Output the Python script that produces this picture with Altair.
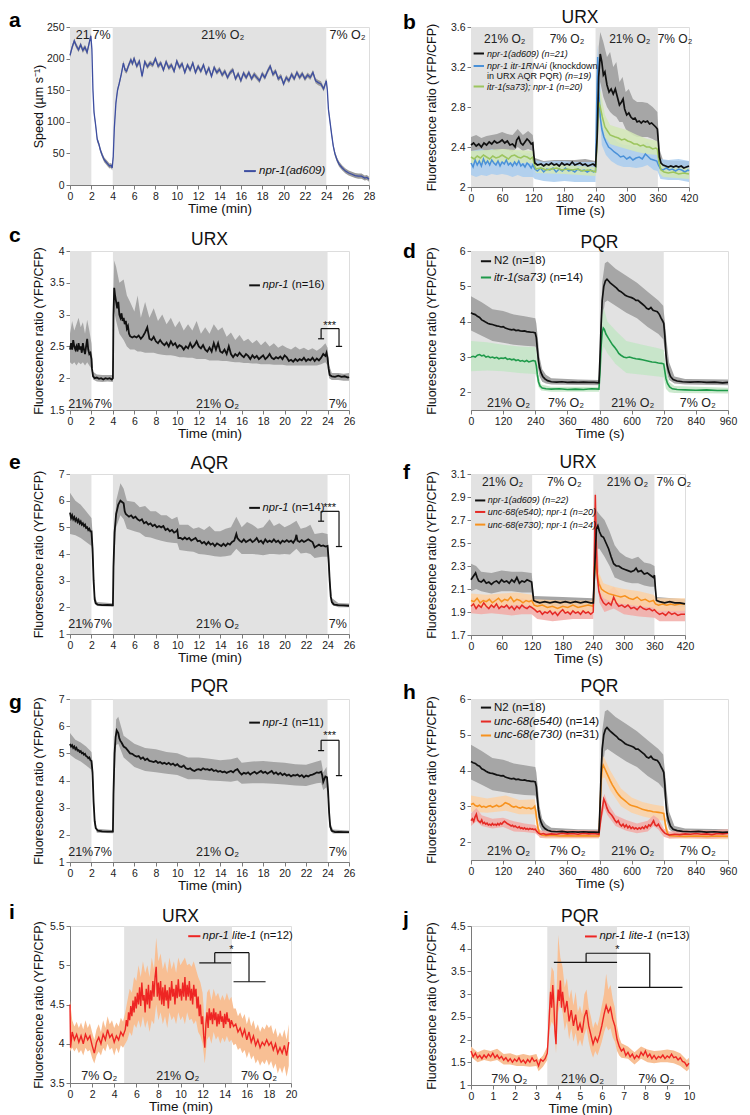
import altair as alt
import pandas as pd

FONT = "Liberation Sans"
SHADE = "#e2e2e2"
AX = "#7a7a7a"
BLACK = "#111111"
GREYBAND = "#a6a6a6"
BLUE_A = "#3d4ea1"
BLUE_B = "#4a91d8"
BLUE_B_BAND = "#a9cdef"
GREEN_B = "#9cc55e"
GREEN_B_BAND = "#d3e7b6"
GREEN_D = "#1f9a4a"
GREEN_D_BAND = "#c3e5c6"
RED = "#e52a25"
RED_BAND = "#f2aaa6"
ORANGE = "#f7921e"
ORANGE_BAND = "#fcd1a4"
RED_I = "#ee2523"
ORANGE_I = "#f8bf94"

# ---------------- panel a : speed ----------------
A_SPEED = [(0,205),(0.2,218),(0.4,228),(0.6,220),(0.8,214),(1.0,222),(1.2,213),(1.4,218),(1.6,210),(1.8,225),(1.95,236),(2.05,215),(2.15,150),(2.25,115),(2.4,95),(2.55,72),(2.7,65),(2.85,55),(3.0,48),(3.2,40),(3.4,36),(3.55,33),(3.7,30),(3.85,31),(3.95,27),(4.05,45),(4.15,90),(4.3,130),(4.45,150),(4.6,160),(4.8,175),(5.0,193),(5.15,182),(5.3,180),(5.5,190),(5.7,198),(5.85,192),(6.0,200),
(6.25,188),(6.5,196),(6.75,172),(7.0,195),(7.25,187),(7.5,193),(7.75,190),(8.0,200),(8.25,188),(8.5,193),(8.75,182),(9.0,195),(9.25,185),(9.5,190),(9.75,180),(10.0,196),(10.25,186),(10.5,192),(10.75,178),(11.0,190),(11.25,182),(11.5,193),(11.75,178),(12.0,188),(12.25,180),(12.5,190),(12.75,176),(13.0,185),(13.25,172),(13.5,186),(13.75,178),(14.0,183),(14.25,174),(14.5,180),(14.75,170),(15.0,178),(15.25,182),(15.5,168),(15.75,176),(16.0,165),(16.25,177),(16.5,170),(16.75,178),(17.0,168),(17.25,175),(17.5,170),(17.75,165),(18.0,176),(18.25,170),(18.5,180),(18.75,188),(19.0,175),(19.25,180),(19.5,168),(19.75,172),(20.0,160),(20.25,170),(20.5,165),(20.75,175),(21.0,168),(21.25,178),(21.5,170),(21.75,176),(22.0,168),(22.25,174),(22.5,170),(22.75,178),(23.0,165),(23.25,162),(23.5,160),(23.75,152),(24.0,165),
(24.1,150),(24.2,120),(24.35,100),(24.5,80),(24.65,62),(24.8,50),(25.0,40),(25.2,33),(25.5,27),(25.8,22),(26.1,19),(26.4,17),(26.7,15),(27.0,14),(27.3,14),(27.6,11),(27.8,12),(28,9)]
A_SEM = 4

# ---------------- panel b : URX ----------------
B_K = [(0,2.42),(5,2.44),(10,2.41),(15,2.43),(20,2.40),(25,2.44),(30,2.42),(35,2.45),(40,2.43),(45,2.46),(50,2.44),(55,2.45),(60,2.47),(65,2.44),(70,2.46),(75,2.42),(80,2.43),(85,2.40),(88,2.47),(92,2.50),(96,2.44),(100,2.42),(104,2.45),(108,2.48),(112,2.46),(116,2.43),(119,2.44),(121,2.32),(123,2.24),(128,2.22),(135,2.23),(140,2.21),(145,2.23),(150,2.22),(155,2.24),(160,2.22),(165,2.23),(170,2.21),(175,2.24),(180,2.22),(185,2.23),(190,2.22),(195,2.25),(200,2.22),(205,2.23),(210,2.24),(215,2.22),(220,2.23),(225,2.21),(230,2.22),(235,2.23),(240,2.21),(243,2.5),(246,3.1),(249,3.33),(252,3.25),(255,3.12),(258,3.15),(262,3.02),(266,2.95),(270,2.98),(274,2.93),(278,2.98),(282,2.90),(286,2.82),(290,2.85),(293,2.88),(296,2.78),(300,2.72),(304,2.74),(308,2.70),(312,2.68),(316,2.69),(320,2.65),(324,2.66),(328,2.64),(332,2.66),(336,2.65),(340,2.66),(344,2.63),(348,2.64),(352,2.62),(356,2.60),(359,2.58),(361,2.45),(363,2.30),(366,2.24),(370,2.22),(375,2.21),(380,2.20),(385,2.21),(390,2.20),(395,2.21),(400,2.20),(405,2.21),(410,2.19),(415,2.20),(420,2.21)]
B_K_BAND = [(0,2.34,2.50),(10,2.35,2.52),(20,2.33,2.49),(30,2.35,2.51),(40,2.36,2.52),(50,2.36,2.53),(60,2.38,2.55),(70,2.37,2.53),(80,2.35,2.52),(90,2.40,2.58),(100,2.36,2.52),(110,2.38,2.56),(119,2.36,2.52),(123,2.19,2.29),(140,2.17,2.26),(160,2.18,2.27),(180,2.17,2.27),(200,2.18,2.27),(220,2.17,2.28),(240,2.16,2.26),(243,2.35,2.7),(246,2.85,3.4),(249,3.05,3.55),(255,2.9,3.45),(262,2.8,3.3),(268,2.75,3.35),(274,2.72,3.2),(280,2.7,3.25),(286,2.65,3.05),(292,2.65,3.1),(298,2.58,2.95),(304,2.55,2.98),(312,2.52,2.88),(320,2.5,2.85),(330,2.5,2.85),(340,2.5,2.84),(350,2.48,2.8),(359,2.45,2.75),(363,2.2,2.38),(370,2.16,2.27),(390,2.15,2.26),(420,2.15,2.26)]
B_G = [(0,2.30),(6,2.28),(12,2.31),(18,2.29),(24,2.32),(30,2.30),(36,2.28),(42,2.31),(48,2.29),(54,2.30),(60,2.32),(66,2.30),(72,2.28),(78,2.31),(84,2.32),(90,2.30),(96,2.29),(102,2.31),(108,2.30),(114,2.28),(119,2.30),(122,2.22),(125,2.18),(135,2.19),(145,2.17),(155,2.18),(165,2.19),(175,2.17),(185,2.18),(195,2.17),(205,2.18),(215,2.16),(225,2.17),(235,2.16),(240,2.15),(243,2.45),(246,2.85),(249,2.80),(253,2.70),(258,2.60),(263,2.56),(268,2.52),(273,2.51),(278,2.50),(284,2.49),(290,2.47),(296,2.48),(302,2.46),(308,2.45),(314,2.43),(320,2.43),(326,2.41),(332,2.42),(338,2.40),(344,2.40),(350,2.38),(356,2.39),(359,2.38),(362,2.25),(366,2.17),(372,2.15),(380,2.14),(390,2.15),(400,2.13),(410,2.14),(420,2.13)]
B_G_BAND = [(0,2.24,2.36),(30,2.24,2.37),(60,2.25,2.38),(90,2.24,2.37),(119,2.24,2.36),(125,2.14,2.22),(180,2.13,2.22),(240,2.11,2.20),(243,2.35,2.55),(246,2.72,3.0),(250,2.68,2.95),(258,2.5,2.72),(268,2.43,2.62),(280,2.41,2.6),(300,2.38,2.57),(320,2.35,2.52),(340,2.33,2.48),(359,2.32,2.46),(363,2.14,2.3),(370,2.1,2.2),(420,2.08,2.19)]
B_B = [(0,2.24),(4,2.20),(8,2.27),(12,2.22),(16,2.26),(20,2.21),(24,2.28),(28,2.23),(32,2.26),(36,2.22),(40,2.27),(44,2.24),(48,2.22),(52,2.26),(56,2.21),(60,2.25),(64,2.23),(68,2.27),(72,2.22),(76,2.24),(80,2.21),(84,2.25),(88,2.22),(92,2.26),(96,2.21),(100,2.23),(104,2.20),(108,2.24),(112,2.22),(116,2.19),(119,2.22),(123,2.18),(128,2.16),(134,2.19),(140,2.15),(146,2.18),(152,2.17),(158,2.19),(164,2.15),(170,2.18),(176,2.16),(182,2.19),(188,2.16),(194,2.17),(200,2.15),(206,2.18),(212,2.16),(218,2.17),(224,2.15),(230,2.17),(236,2.15),(240,2.16),(242,2.8),(244,3.3),(246,3.0),(249,2.7),(252,2.58),(256,2.50),(260,2.45),(265,2.40),(270,2.38),(276,2.35),(282,2.33),(288,2.30),(294,2.31),(300,2.28),(306,2.30),(312,2.27),(318,2.29),(324,2.30),(330,2.28),(336,2.33),(340,2.31),(346,2.28),(352,2.27),(358,2.26),(361,2.22),(365,2.18),(370,2.17),(376,2.19),(382,2.17),(388,2.18),(394,2.16),(400,2.18),(406,2.17),(412,2.15),(418,2.17),(420,2.16)]
B_B_BAND = [(0,2.12,2.36),(10,2.1,2.37),(20,2.12,2.38),(30,2.11,2.36),(40,2.13,2.38),(50,2.12,2.36),(60,2.13,2.37),(70,2.12,2.37),(80,2.1,2.34),(90,2.12,2.36),(100,2.1,2.33),(110,2.1,2.34),(119,2.1,2.33),(123,2.08,2.27),(140,2.06,2.25),(160,2.05,2.26),(180,2.06,2.26),(200,2.05,2.25),(220,2.05,2.25),(240,2.05,2.25),(242,2.6,3.0),(244,3.1,3.42),(247,2.8,3.2),(252,2.42,2.75),(260,2.32,2.6),(270,2.26,2.52),(282,2.22,2.45),(294,2.2,2.42),(306,2.2,2.42),(318,2.19,2.4),(330,2.2,2.42),(340,2.22,2.45),(352,2.17,2.38),(359,2.16,2.36),(365,2.08,2.28),(380,2.07,2.27),(400,2.07,2.28),(420,2.05,2.26)]

# ---------------- panel c : URX npr-1 ----------------
C_LINE = [(0,2.45),(0.1,2.55),(0.2,2.45),(0.3,2.6),(0.4,2.5),(0.5,2.45),(0.6,2.5),(0.7,2.42),(0.8,2.55),(0.9,2.45),(1.0,2.5),(1.1,2.4),(1.2,2.55),(1.3,2.45),(1.4,2.38),(1.5,2.5),(1.6,2.62),(1.7,2.45),(1.8,2.38),(1.9,2.4),(2.0,2.3),(2.05,2.15),(2.15,2.03),(2.3,2.0),(2.5,2.01),(2.7,1.99),(2.9,2.0),(3.1,1.98),(3.3,2.0),(3.5,1.99),(3.7,2.0),(3.9,1.98),(4.0,2.0),(4.05,3.0),(4.12,3.42),(4.2,3.3),(4.3,3.2),(4.4,3.1),(4.5,3.2),(4.6,3.0),(4.7,2.95),(4.8,3.02),(4.9,2.9),(5.0,2.95),(5.1,2.85),(5.2,2.9),(5.3,2.78),(5.4,2.82),(5.5,2.7),(5.6,2.66),(5.8,2.64),(6.0,2.66),(6.2,2.64),(6.4,2.67),(6.6,2.62),(6.8,2.66),(7.0,2.72),(7.2,2.80),(7.4,2.62),(7.6,2.6),(7.8,2.65),(8.0,2.58),(8.2,2.55),(8.4,2.6),(8.6,2.55),(8.8,2.52),(9.0,2.56),(9.2,2.5),(9.4,2.58),(9.6,2.52),(9.8,2.55),(10.0,2.48),(10.2,2.52),(10.4,2.5),(10.6,2.45),(10.8,2.5),(11.0,2.47),(11.2,2.55),(11.4,2.48),(11.6,2.52),(11.8,2.58),(12.0,2.5),(12.2,2.47),(12.4,2.52),(12.6,2.45),(12.8,2.42),(13.0,2.48),(13.2,2.42),(13.4,2.55),(13.6,2.45),(13.8,2.55),(14.0,2.42),(14.2,2.4),(14.4,2.45),(14.6,2.38),(14.8,2.5),(15.0,2.38),(15.2,2.33),(15.4,2.38),(15.6,2.35),(15.8,2.4),(16.0,2.36),(16.2,2.33),(16.4,2.38),(16.6,2.35),(16.8,2.3),(17.0,2.36),(17.2,2.32),(17.4,2.35),(17.6,2.3),(17.8,2.33),(18.0,2.36),(18.2,2.3),(18.4,2.33),(18.6,2.38),(18.8,2.32),(19.0,2.3),(19.2,2.33),(19.4,2.31),(19.6,2.34),(19.8,2.3),(20.0,2.36),(20.2,2.33),(20.4,2.27),(20.6,2.29),(20.8,2.26),(21.0,2.3),(21.2,2.27),(21.4,2.3),(21.6,2.28),(21.8,2.32),(22.0,2.27),(22.2,2.3),(22.4,2.28),(22.6,2.32),(22.8,2.27),(23.0,2.31),(23.2,2.28),(23.4,2.32),(23.6,2.38),(23.8,2.35),(23.9,2.4),(24.0,2.32),(24.1,2.15),(24.2,2.05),(24.4,2.03),(24.7,2.02),(25.0,2.04),(25.3,2.02),(25.6,2.03),(25.9,2.01),(26.0,2.02)]
C_BAND = [(0,2.25,2.7),(0.2,2.22,2.9),(0.4,2.25,2.75),(0.6,2.2,2.85),(0.8,2.25,2.95),(1.0,2.22,2.8),(1.2,2.25,2.88),(1.4,2.2,2.7),(1.6,2.25,2.92),(1.8,2.2,2.75),(2.0,2.15,2.55),(2.15,1.98,2.1),(2.5,1.95,2.06),(3.0,1.94,2.05),(3.5,1.95,2.05),(4.0,1.94,2.05),(4.05,2.6,3.4),(4.12,3.05,3.85),(4.3,2.9,3.75),(4.6,2.7,3.5),(5.0,2.6,3.55),(5.3,2.5,3.3),(5.6,2.45,3.2),(6.0,2.45,3.05),(6.3,2.42,3.3),(6.6,2.42,2.95),(7.0,2.4,3.2),(7.4,2.4,2.95),(7.8,2.4,3.1),(8.2,2.38,2.9),(8.6,2.37,3.0),(9.0,2.36,2.85),(9.4,2.36,2.95),(9.8,2.35,2.8),(10.2,2.33,2.9),(10.6,2.33,2.75),(11.0,2.32,2.85),(11.4,2.32,2.75),(11.8,2.3,2.9),(12.2,2.3,2.7),(12.6,2.3,2.8),(13.0,2.28,2.7),(13.4,2.28,2.85),(13.8,2.28,2.75),(14.2,2.27,2.8),(14.6,2.27,2.65),(15.0,2.26,2.72),(15.4,2.25,2.6),(15.8,2.25,2.68),(16.2,2.24,2.58),(16.6,2.24,2.62),(17.0,2.23,2.55),(17.4,2.23,2.6),(17.8,2.22,2.52),(18.2,2.22,2.58),(18.6,2.22,2.5),(19.0,2.21,2.55),(19.4,2.21,2.48),(19.8,2.21,2.52),(20.2,2.2,2.48),(20.6,2.2,2.45),(21.0,2.2,2.5),(21.4,2.2,2.45),(21.8,2.2,2.48),(22.2,2.2,2.44),(22.6,2.2,2.47),(23.0,2.2,2.43),(23.4,2.22,2.48),(23.8,2.25,2.55),(24.0,2.2,2.48),(24.15,2.0,2.2),(24.4,1.97,2.08),(25.0,1.97,2.08),(25.5,1.96,2.07),(26.0,1.96,2.08)]

# ---------------- panels d, h : PQR N2 ----------------
N2_LINE = [(0,4.25),(8,4.22),(16,4.2),(24,4.15),(32,4.12),(40,4.05),(48,4.02),(56,3.98),(64,3.95),(72,3.93),(80,3.92),(88,3.9),(96,3.88),(104,3.87),(112,3.85),(120,3.86),(128,3.82),(136,3.8),(144,3.78),(152,3.77),(160,3.78),(168,3.75),(176,3.76),(184,3.74),(192,3.73),(200,3.74),(208,3.72),(216,3.71),(224,3.7),(232,3.7),(240,3.68),(244,3.55),(248,3.2),(252,2.9),(256,2.7),(262,2.55),(268,2.45),(276,2.38),(286,2.33),(300,2.3),(320,2.29),(340,2.3),(360,2.28),(380,2.29),(400,2.28),(420,2.29),(440,2.28),(460,2.28),(478,2.27),(482,3.0),(486,3.9),(490,4.6),(496,5.0),(502,5.15),(508,5.2),(514,5.15),(520,5.1),(528,5.05),(536,5.0),(544,4.95),(552,4.88),(560,4.85),(568,4.8),(576,4.75),(584,4.72),(592,4.7),(600,4.68),(608,4.65),(616,4.6),(624,4.6),(632,4.55),(640,4.5),(648,4.45),(656,4.38),(664,4.35),(672,4.4),(680,4.32),(688,4.3),(696,4.28),(704,4.2),(710,4.1),(716,4.02),(720,3.95),(724,3.6),(728,3.1),(732,2.8),(738,2.6),(745,2.45),(755,2.36),(770,2.32),(790,2.3),(820,2.29),(850,2.3),(880,2.28),(910,2.29),(940,2.27),(960,2.28)]
N2_BAND = [(0,3.75,4.72),(40,3.6,4.55),(80,3.45,4.35),(120,3.4,4.3),(160,3.35,4.2),(200,3.32,4.15),(240,3.3,4.1),(244,3.2,3.95),(250,2.7,3.5),(256,2.45,3.0),(266,2.3,2.65),(280,2.25,2.5),(300,2.22,2.4),(400,2.21,2.36),(478,2.2,2.35),(484,2.9,3.8),(490,4.0,5.1),(500,4.55,5.65),(510,4.6,5.7),(540,4.45,5.5),(580,4.25,5.3),(620,4.1,5.1),(660,3.85,4.85),(700,3.65,4.6),(718,3.5,4.45),(724,3.2,4.0),(730,2.6,3.5),(740,2.35,2.85),(760,2.25,2.45),(800,2.22,2.38),(960,2.2,2.36)]
D_G = [(0,3.0),(8,3.02),(16,3.0),(24,3.05),(32,3.07),(40,3.03),(48,3.05),(56,3.0),(64,3.02),(72,2.98),(80,3.0),(88,2.97),(96,2.99),(104,2.95),(112,2.97),(120,2.96),(128,2.98),(136,2.93),(144,2.95),(152,2.92),(160,2.94),(168,2.9),(176,2.92),(184,2.88),(192,2.9),(200,2.87),(208,2.9),(216,2.86),(224,2.88),(232,2.9),(240,2.88),(244,2.75),(248,2.5),(252,2.3),(258,2.18),(266,2.12),(280,2.1),(300,2.09),(330,2.1),(360,2.08),(390,2.09),(420,2.08),(450,2.1),(478,2.09),(482,2.6),(486,3.3),(490,3.7),(494,3.82),(498,3.78),(504,3.65),(512,3.55),(520,3.45),(528,3.35),(536,3.28),(544,3.2),(552,3.1),(560,3.05),(570,3.0),(580,2.98),(592,3.0),(604,2.97),(616,2.95),(628,2.94),(640,2.92),(652,2.9),(664,2.88),(676,2.86),(688,2.85),(700,2.83),(712,2.82),(720,2.8),(724,2.6),(728,2.4),(734,2.25),(742,2.15),(752,2.1),(770,2.08),(800,2.07),(840,2.06),(880,2.07),(920,2.05),(960,2.05)]
D_G_BAND = [(0,2.6,3.45),(60,2.62,3.42),(120,2.6,3.35),(180,2.55,3.3),(240,2.52,3.28),(246,2.4,3.1),(252,2.15,2.5),(262,2.05,2.22),(300,2.02,2.16),(478,2.02,2.16),(484,2.5,3.4),(490,3.1,4.2),(496,3.3,4.38),(510,3.1,4.0),(540,2.8,3.75),(580,2.55,3.45),(640,2.5,3.35),(700,2.45,3.25),(720,2.42,3.2),(728,2.1,2.7),(740,2.0,2.3),(760,1.98,2.18),(960,1.97,2.13)]

# ---------------- panel e : AQR ----------------
E_LINE = [(0,5.55),(0.1,5.35),(0.2,5.45),(0.3,5.3),(0.4,5.38),(0.5,5.25),(0.6,5.32),(0.7,5.2),(0.8,5.28),(0.9,5.15),(1.0,5.22),(1.1,5.1),(1.2,5.15),(1.3,5.05),(1.4,5.1),(1.5,4.98),(1.6,5.0),(1.7,4.9),(1.8,4.95),(1.9,4.85),(2.0,4.85),(2.1,4.2),(2.2,3.0),(2.3,2.3),(2.4,2.15),(2.6,2.1),(3.0,2.08),(3.5,2.09),(4.0,2.08),(4.05,3.5),(4.15,4.8),(4.3,5.5),(4.5,5.85),(4.7,6.0),(4.85,5.95),(5.0,5.9),(5.1,5.6),(5.2,5.5),(5.35,5.45),(5.5,5.4),(5.7,5.45),(5.9,5.35),(6.1,5.4),(6.3,5.3),(6.5,5.25),(6.7,5.3),(6.9,5.15),(7.1,5.2),(7.3,5.1),(7.5,5.15),(7.7,5.05),(7.9,5.1),(8.1,5.0),(8.3,5.05),(8.5,5.0),(8.7,5.05),(8.9,4.9),(9.1,4.95),(9.3,4.85),(9.5,4.9),(9.7,4.8),(9.9,4.85),(10.0,4.9),(10.1,4.6),(10.3,4.6),(10.5,4.55),(10.7,4.62),(10.9,4.55),(11.1,4.6),(11.3,4.5),(11.5,4.55),(11.7,4.6),(11.9,4.48),(12.1,4.5),(12.3,4.4),(12.5,4.45),(12.7,4.35),(12.9,4.45),(13.1,4.35),(13.3,4.4),(13.5,4.3),(13.7,4.4),(13.9,4.35),(14.1,4.3),(14.3,4.38),(14.5,4.3),(14.7,4.4),(14.9,4.35),(15.1,4.45),(15.3,4.5),(15.5,4.75),(15.6,4.6),(15.8,4.5),(16.0,4.45),(16.2,4.55),(16.4,4.45),(16.6,4.5),(16.8,4.55),(17.0,4.45),(17.2,4.5),(17.4,4.6),(17.6,4.45),(17.8,4.5),(18.0,4.4),(18.2,4.55),(18.4,4.45),(18.6,4.5),(18.8,4.45),(19.0,4.55),(19.2,4.45),(19.4,4.5),(19.6,4.4),(19.8,4.5),(20.0,4.45),(20.2,4.52),(20.4,4.45),(20.6,4.5),(20.8,4.42),(21.0,4.55),(21.1,4.72),(21.2,4.5),(21.4,4.45),(21.6,4.52),(21.8,4.45),(22.0,4.5),(22.2,4.55),(22.4,4.5),(22.6,4.45),(22.8,4.25),(23.0,4.3),(23.2,4.35),(23.4,4.3),(23.6,4.32),(23.8,4.28),(24.0,4.3),(24.1,3.8),(24.2,3.0),(24.3,2.4),(24.4,2.2),(24.6,2.1),(25.0,2.08),(25.5,2.07),(26.0,2.06)]
E_BAND = [(0,4.75,6.3),(0.5,4.7,6.0),(1.0,4.6,5.85),(1.5,4.45,5.6),(2.0,4.3,5.35),(2.1,3.7,4.8),(2.3,2.15,2.45),(2.5,2.05,2.2),(4.0,2.02,2.15),(4.05,3.2,3.85),(4.3,5.0,6.0),(4.7,5.45,6.65),(5.0,5.3,6.45),(5.3,4.95,6.0),(6.0,4.85,5.95),(6.5,4.8,5.75),(7.0,4.65,5.8),(7.5,4.62,5.6),(8.0,4.55,5.6),(8.5,4.5,5.45),(9.0,4.45,5.45),(9.5,4.42,5.3),(10.0,4.4,5.4),(10.2,4.15,5.1),(11.0,4.1,5.1),(11.5,4.08,4.95),(12.0,4.0,5.0),(12.5,3.98,4.9),(13.0,3.95,5.05),(13.5,3.92,4.85),(14.0,3.9,4.85),(14.5,3.92,4.95),(15.0,3.95,5.0),(15.5,4.2,5.4),(16.0,4.0,5.0),(16.5,4.0,5.2),(17.0,4.0,5.1),(17.5,3.98,4.95),(18.0,3.95,5.0),(18.6,4.0,5.3),(19.0,4.0,5.05),(19.5,3.98,5.15),(20.0,4.0,5.0),(20.5,3.98,5.1),(21.1,4.2,5.25),(21.5,4.02,4.95),(22.0,4.05,5.0),(22.4,4.0,5.1),(22.8,3.85,4.75),(23.5,3.9,4.8),(24.0,3.9,4.75),(24.2,2.7,3.3),(24.4,2.1,2.35),(25.0,2.0,2.16),(26.0,2.0,2.14)]

# ---------------- panel f : URX unc-68 ----------------
F_K = [(0,2.18),(3,2.2),(6,2.22),(9,2.24),(12,2.2),(15,2.17),(20,2.16),(25,2.18),(30,2.15),(35,2.16),(40,2.14),(45,2.16),(50,2.17),(55,2.15),(60,2.18),(65,2.16),(70,2.17),(75,2.15),(80,2.18),(85,2.16),(90,2.2),(95,2.15),(100,2.17),(105,2.16),(110,2.18),(115,2.17),(119,2.16),(121,2.08),(123,2.0),(128,1.99),(135,1.98),(145,1.99),(155,1.98),(165,1.99),(175,1.98),(185,1.99),(195,1.98),(205,1.99),(215,1.98),(225,1.99),(235,1.98),(240,1.98),(243,2.3),(246,2.62),(249,2.65),(252,2.6),(256,2.56),(260,2.55),(265,2.5),(270,2.45),(275,2.38),(280,2.32),(285,2.3),(290,2.3),(296,2.28),(302,2.27),(308,2.26),(314,2.25),(320,2.26),(324,2.28),(328,2.25),(334,2.26),(340,2.23),(346,2.24),(352,2.22),(358,2.2),(360,2.22),(362,2.1),(364,2.0),(370,1.99),(380,1.98),(390,1.99),(400,1.98),(410,1.98),(420,1.97)]
F_K_BAND = [(0,2.08,2.32),(10,2.1,2.3),(20,2.08,2.25),(40,2.06,2.24),(60,2.08,2.26),(80,2.08,2.25),(100,2.07,2.25),(119,2.07,2.24),(123,1.96,2.04),(180,1.95,2.03),(240,1.95,2.02),(243,2.15,2.45),(247,2.45,2.78),(252,2.45,2.75),(262,2.38,2.7),(272,2.3,2.6),(282,2.2,2.48),(292,2.18,2.42),(304,2.16,2.38),(316,2.15,2.36),(328,2.15,2.38),(340,2.13,2.33),(352,2.12,2.32),(360,2.12,2.3),(364,1.96,2.03),(420,1.94,2.01)]
F_R = [(0,1.95),(5,1.97),(10,1.93),(15,1.96),(20,1.94),(25,1.98),(30,1.95),(35,1.93),(40,1.96),(45,1.94),(50,1.97),(55,1.93),(60,1.95),(65,1.94),(70,1.96),(75,1.93),(80,1.95),(85,1.92),(90,1.95),(95,1.93),(100,1.96),(105,1.94),(110,1.93),(115,1.95),(119,1.94),(125,1.92),(130,1.9),(135,1.91),(140,1.88),(145,1.9),(150,1.89),(155,1.91),(160,1.88),(165,1.9),(170,1.87),(175,1.9),(180,1.92),(185,1.89),(190,1.9),(195,1.88),(200,1.91),(205,1.89),(210,1.9),(215,1.88),(220,1.91),(225,1.89),(230,1.9),(235,1.88),(240,1.9),(242,2.4),(244,2.92),(246,2.5),(248,2.2),(251,2.08),(255,2.02),(260,1.98),(265,1.96),(270,1.98),(275,1.96),(280,2.03),(285,1.98),(290,1.95),(296,1.96),(302,1.94),(308,1.96),(314,1.93),(320,1.94),(326,1.92),(332,1.95),(338,1.93),(344,1.92),(350,1.93),(356,1.91),(360,1.92),(364,1.9),(370,1.88),(376,1.89),(382,1.87),(388,1.9),(394,1.88),(400,1.89),(406,1.87),(412,1.88),(420,1.88)]
F_R_BAND = [(0,1.89,2.02),(20,1.88,2.01),(40,1.89,2.02),(60,1.88,2.01),(80,1.87,2.0),(100,1.88,2.02),(119,1.88,2.0),(130,1.84,1.96),(160,1.82,1.95),(200,1.84,1.96),(240,1.84,1.96),(242,2.2,2.6),(244,2.8,2.97),(247,2.25,2.6),(252,1.98,2.18),(262,1.9,2.05),(280,1.93,2.12),(300,1.88,2.02),(330,1.86,2.0),(360,1.85,1.98),(370,1.82,1.95),(400,1.82,1.95),(420,1.82,1.94)]
F_O = [(0,2.0),(6,1.99),(12,2.02),(18,1.98),(24,2.0),(30,1.99),(36,2.01),(42,1.98),(48,2.0),(54,2.02),(60,1.99),(66,2.01),(72,2.0),(78,2.03),(84,1.99),(90,2.01),(96,2.0),(102,1.98),(108,2.0),(114,1.99),(119,2.0),(124,1.96),(130,1.95),(140,1.96),(150,1.94),(160,1.95),(170,1.93),(180,1.95),(190,1.94),(200,1.96),(210,1.94),(220,1.95),(230,1.96),(240,1.95),(242,2.2),(244,2.35),(247,2.25),(251,2.15),(256,2.1),(262,2.08),(270,2.06),(278,2.05),(286,2.04),(294,2.03),(302,2.04),(310,2.02),(318,2.01),(326,2.03),(334,2.0),(342,2.01),(350,1.99),(358,2.0),(362,1.97),(368,1.96),(376,1.97),(384,1.96),(392,1.97),(400,1.96),(410,1.97),(420,1.97)]
F_O_BAND = [(0,1.95,2.06),(30,1.94,2.05),(60,1.95,2.06),(90,1.96,2.07),(119,1.95,2.05),(125,1.91,2.01),(180,1.9,2.0),(240,1.9,2.0),(242,2.1,2.3),(244,2.25,2.45),(250,2.1,2.25),(260,2.02,2.15),(280,1.98,2.12),(300,1.97,2.1),(330,1.95,2.08),(358,1.94,2.05),(364,1.91,2.02),(420,1.91,2.02)]

# ---------------- panel g : PQR npr-1 ----------------
G_LINE = [(0,5.35),(0.1,5.25),(0.2,5.3),(0.3,5.2),(0.4,5.25),(0.5,5.15),(0.6,5.2),(0.7,5.1),(0.8,5.12),(0.9,5.05),(1.0,5.08),(1.1,5.0),(1.2,5.02),(1.3,4.95),(1.4,4.98),(1.5,4.9),(1.6,4.88),(1.7,4.82),(1.8,4.85),(1.9,4.75),(2.0,4.72),(2.1,4.3),(2.2,3.2),(2.3,2.5),(2.4,2.25),(2.6,2.15),(3.0,2.13),(3.5,2.12),(4.0,2.12),(4.05,3.5),(4.15,5.0),(4.25,5.6),(4.35,5.85),(4.5,5.75),(4.6,5.55),(4.7,5.45),(4.8,5.4),(5.0,5.25),(5.2,5.2),(5.4,5.1),(5.6,5.0),(5.8,4.98),(6.0,4.92),(6.2,4.88),(6.4,4.9),(6.6,4.8),(6.8,4.85),(7.0,4.75),(7.2,4.8),(7.4,4.72),(7.6,4.7),(7.8,4.68),(8.0,4.72),(8.2,4.65),(8.4,4.68),(8.6,4.62),(8.8,4.65),(9.0,4.6),(9.2,4.65),(9.4,4.58),(9.6,4.62),(9.8,4.55),(10.0,4.6),(10.2,4.52),(10.4,4.5),(10.6,4.55),(10.8,4.45),(11.0,4.42),(11.2,4.45),(11.4,4.38),(11.6,4.35),(11.8,4.4),(12.0,4.42),(12.2,4.38),(12.4,4.45),(12.6,4.4),(12.8,4.42),(13.0,4.38),(13.2,4.42),(13.4,4.35),(13.6,4.38),(13.8,4.32),(14.0,4.35),(14.2,4.3),(14.4,4.33),(14.6,4.28),(14.8,4.32),(15.0,4.35),(15.2,4.3),(15.4,4.38),(15.6,4.42),(15.8,4.3),(16.0,4.22),(16.2,4.28),(16.4,4.25),(16.6,4.3),(16.8,4.22),(17.0,4.28),(17.2,4.32),(17.4,4.25),(17.6,4.3),(17.8,4.35),(18.0,4.28),(18.2,4.32),(18.4,4.25),(18.6,4.3),(18.8,4.35),(19.0,4.25),(19.2,4.3),(19.4,4.22),(19.6,4.28),(19.8,4.2),(20.0,4.25),(20.2,4.18),(20.4,4.22),(20.6,4.15),(20.8,4.2),(21.0,4.18),(21.2,4.22),(21.4,4.15),(21.6,4.2),(21.8,4.12),(22.0,4.18),(22.2,4.15),(22.4,4.2),(22.6,4.22),(22.8,4.25),(23.0,4.3),(23.2,4.28),(23.4,4.32),(23.5,4.2),(23.6,3.95),(23.7,4.05),(23.8,4.15),(23.95,4.12),(24.05,3.6),(24.15,2.8),(24.25,2.3),(24.4,2.15),(24.7,2.1),(25.0,2.11),(25.5,2.1),(26.0,2.1)]
G_BAND = [(0,4.95,5.75),(0.5,4.8,5.5),(1.0,4.7,5.4),(1.5,4.55,5.25),(2.0,4.4,5.05),(2.1,4.0,4.6),(2.3,2.35,2.65),(2.5,2.08,2.22),(4.0,2.06,2.18),(4.05,3.2,3.8),(4.3,5.3,6.25),(4.5,5.35,6.35),(5.0,4.85,5.65),(6.0,4.5,5.35),(7.0,4.35,5.2),(8.0,4.3,5.15),(9.0,4.25,5.05),(10.0,4.2,5.0),(11.0,4.05,4.85),(12.0,4.05,4.85),(13.0,4.0,4.8),(14.0,3.98,4.75),(15.0,3.95,4.78),(15.6,4.0,4.85),(16.0,3.88,4.65),(17.0,3.9,4.7),(18.0,3.9,4.72),(19.0,3.88,4.68),(20.0,3.85,4.65),(21.0,3.82,4.6),(22.0,3.8,4.58),(23.0,3.9,4.7),(23.4,3.92,4.75),(23.6,3.65,4.3),(23.9,3.75,4.5),(24.05,3.3,3.9),(24.25,2.15,2.45),(24.5,2.05,2.2),(26.0,2.05,2.16)]

# ---------------- panel h : PQR unc-68 ----------------
H_O = [(0,3.05),(8,3.08),(16,3.02),(24,3.0),(32,3.03),(40,2.98),(48,3.0),(56,2.97),(64,3.0),(72,3.02),(80,2.98),(88,3.0),(96,3.03),(104,2.99),(112,3.01),(120,3.05),(128,3.1),(136,3.08),(144,3.05),(152,3.0),(160,2.98),(168,3.0),(176,2.97),(184,2.95),(192,2.98),(200,2.96),(208,2.94),(216,2.96),(224,2.93),(232,2.95),(238,3.0),(242,2.85),(246,2.6),(250,2.4),(256,2.25),(264,2.2),(280,2.18),(300,2.19),(330,2.17),(360,2.18),(390,2.17),(420,2.18),(450,2.17),(478,2.17),(482,2.9),(486,3.7),(490,4.05),(494,4.15),(500,4.05),(506,3.95),(512,3.85),(520,3.72),(528,3.6),(536,3.5),(544,3.4),(552,3.32),(560,3.25),(568,3.2),(576,3.15),(584,3.1),(592,3.05),(600,3.02),(610,3.0),(620,2.98),(630,2.95),(640,2.92),(650,2.9),(660,2.88),(670,2.87),(680,2.85),(690,2.84),(700,2.83),(710,2.82),(720,2.8),(724,2.6),(728,2.4),(734,2.25),(742,2.18),(760,2.17),(800,2.16),(840,2.17),(880,2.16),(920,2.17),(960,2.16)]
H_O_BAND = [(0,2.85,3.3),(60,2.82,3.22),(130,2.88,3.3),(180,2.78,3.18),(238,2.78,3.2),(246,2.45,2.8),(256,2.12,2.35),(280,2.1,2.26),(478,2.1,2.26),(484,3.0,3.8),(492,3.8,4.42),(500,3.8,4.32),(520,3.45,4.0),(560,3.0,3.5),(600,2.82,3.25),(640,2.72,3.12),(680,2.65,3.05),(720,2.6,3.0),(728,2.25,2.55),(740,2.1,2.25),(960,2.08,2.24)]
H_R = [(0,2.6),(5,2.65),(10,2.58),(15,2.7),(20,2.78),(25,2.62),(30,2.58),(35,2.55),(40,2.62),(45,2.52),(50,2.55),(55,2.5),(60,2.53),(65,2.48),(70,2.5),(75,2.47),(80,2.52),(85,2.48),(90,2.5),(95,2.47),(100,2.52),(105,2.48),(110,2.53),(115,2.5),(120,2.55),(125,2.58),(130,2.55),(135,2.52),(140,2.5),(145,2.48),(150,2.45),(155,2.47),(160,2.43),(165,2.45),(170,2.42),(175,2.4),(180,2.43),(185,2.38),(190,2.4),(195,2.37),(200,2.4),(205,2.36),(210,2.38),(215,2.35),(220,2.38),(225,2.36),(230,2.37),(235,2.35),(240,2.36),(246,2.3),(252,2.25),(260,2.22),(270,2.24),(280,2.21),(300,2.23),(320,2.22),(340,2.25),(360,2.23),(380,2.24),(400,2.22),(420,2.25),(440,2.23),(460,2.24),(478,2.22),(484,2.6),(490,2.9),(496,3.2),(502,3.1),(508,2.95),(514,2.85),(520,2.8),(526,2.75),(532,2.68),(538,2.6),(544,2.55),(550,2.6),(556,2.5),(562,2.45),(568,2.5),(574,2.42),(580,2.48),(586,2.4),(592,2.45),(598,2.38),(604,2.42),(610,2.37),(616,2.4),(622,2.36),(628,2.4),(634,2.37),(640,2.42),(646,2.38),(652,2.45),(658,2.4),(664,2.48),(670,2.45),(676,2.52),(682,2.6),(688,2.48),(694,2.45),(700,2.5),(706,2.42),(712,2.35),(718,2.3),(724,2.25),(732,2.22),(740,2.2),(760,2.22),(780,2.21),(800,2.23),(820,2.22),(840,2.24),(860,2.22),(880,2.23),(900,2.21),(920,2.24),(940,2.23),(960,2.25)]
H_R_BAND = [(0,2.45,2.8),(20,2.58,2.95),(40,2.45,2.75),(80,2.38,2.65),(120,2.42,2.68),(160,2.3,2.58),(200,2.28,2.52),(240,2.25,2.48),(260,2.12,2.32),(300,2.13,2.33),(400,2.12,2.34),(478,2.12,2.33),(490,2.7,3.1),(498,2.95,3.35),(510,2.75,3.1),(540,2.45,2.75),(580,2.32,2.62),(620,2.25,2.52),(660,2.3,2.6),(682,2.45,2.75),(700,2.35,2.65),(720,2.15,2.38),(740,2.1,2.3),(800,2.12,2.33),(900,2.1,2.33),(960,2.13,2.36)]

# ---------------- panel i : URX lite-1 ----------------
I_LINE = [(0,4.5),(0.05,3.95),(0.2,4.15),(0.4,4.05),(0.6,4.12),(0.8,4.02),(1.0,4.1),(1.2,4.0),(1.4,4.12),(1.6,4.05),(1.8,4.1),(2.0,3.98),(2.2,3.88),(2.4,4.02),(2.6,4.08),(2.8,4.0),(3.0,4.12),(3.2,4.05),(3.4,4.18),(3.6,4.08),(3.8,4.12),(4.0,4.02),(4.2,4.1),(4.4,4.05),(4.6,4.15),(4.8,4.1),
(5.0,4.18),(5.1,4.3),(5.2,4.22),(5.3,4.4),(5.4,4.3),(5.5,4.48),(5.6,4.35),(5.7,4.55),(5.8,4.4),(5.9,4.6),(6.0,4.45),(6.1,4.65),(6.2,4.5),(6.3,4.72),(6.4,4.48),(6.5,4.78),(6.6,4.55),(6.7,4.62),(6.8,4.4),(6.9,4.7),(7.0,4.5),(7.1,4.75),(7.2,4.45),(7.3,4.68),(7.4,4.55),(7.5,4.8),(7.6,4.6),(7.7,4.85),(7.8,4.98),(7.9,4.6),(8.0,4.78),(8.1,4.55),(8.2,4.8),(8.3,4.5),(8.4,4.72),(8.5,4.48),(8.6,4.75),(8.7,4.55),(8.8,4.68),(8.9,4.45),(9.0,4.72),(9.1,4.55),(9.2,4.8),(9.3,4.6),(9.4,4.7),(9.5,4.5),(9.6,4.75),(9.7,4.58),(9.8,4.82),(9.9,4.6),(10.0,4.7),(10.1,4.55),(10.2,4.78),(10.3,4.6),(10.4,4.85),(10.5,4.55),(10.6,4.75),(10.7,4.6),(10.8,4.8),(10.9,4.55),(11.0,4.7),(11.1,4.5),(11.2,4.75),(11.3,4.6),(11.4,4.7),(11.5,4.45),(11.6,4.6),(11.7,4.35),(11.8,4.5),(11.9,4.25),(12.0,4.35),(12.1,4.1),(12.2,3.95),(12.3,4.25),(12.4,4.4),(12.5,4.2),(12.6,4.45),(12.7,4.3),(12.8,4.4),(12.9,4.25),(13.0,4.45),(13.1,4.3),(13.2,4.4),(13.3,4.22),(13.4,4.38),(13.5,4.25),(13.6,4.42),(13.7,4.28),(13.8,4.35),(13.9,4.2),(14.0,4.38),(14.1,4.25),(14.2,4.4),(14.3,4.28),(14.4,4.32),(14.5,4.2),(14.6,4.3),
(14.8,4.22),(15.0,4.25),(15.2,4.15),(15.4,4.2),(15.6,4.1),(15.8,4.18),(16.0,4.05),(16.2,4.15),(16.4,4.02),(16.6,4.1),(16.8,3.98),(17.0,4.05),(17.2,3.95),(17.4,4.02),(17.6,3.98),(17.8,4.05),(18.0,3.98),(18.2,4.02),(18.4,3.92),(18.6,4.0),(18.8,3.88),(19.0,3.95),(19.2,3.88),(19.4,3.98),(19.6,3.85),(19.8,4.02)]
I_BAND = [(0,3.9,4.55),(0.2,3.95,4.3),(0.4,3.9,4.22),(0.6,3.95,4.28),(0.8,3.88,4.2),(1.0,3.92,4.27),(1.2,3.85,4.18),(1.4,3.95,4.3),(1.6,3.9,4.2),(1.8,3.92,4.26),(2.0,3.82,4.15),(2.2,3.75,4.05),(2.4,3.85,4.18),(2.6,3.9,4.25),(2.8,3.85,4.15),(3.0,3.95,4.3),(3.2,3.9,4.2),(3.4,4.0,4.35),(3.6,3.92,4.25),(3.8,3.95,4.3),(4.0,3.85,4.2),(4.2,3.95,4.27),(4.4,3.88,4.22),(4.6,3.98,4.33),(4.8,3.95,4.28),(5.0,4.0,4.4),(5.2,4.05,4.55),(5.4,4.15,4.7),(5.6,4.1,4.65),(5.8,4.25,4.85),(6.0,4.2,4.8),(6.2,4.3,5.0),(6.4,4.2,4.85),(6.6,4.35,5.05),(6.8,4.2,4.9),(7.0,4.3,5.0),(7.2,4.15,4.85),(7.4,4.3,5.1),(7.6,4.25,4.95),(7.8,4.5,5.35),(8.0,4.3,5.05),(8.2,4.4,5.15),(8.4,4.25,4.95),(8.6,4.35,5.05),(8.8,4.2,4.9),(9.0,4.4,5.1),(9.2,4.3,4.95),(9.4,4.35,5.05),(9.6,4.25,4.9),(9.8,4.4,5.1),(10.0,4.3,5.0),(10.2,4.35,5.05),(10.4,4.25,5.1),(10.6,4.4,5.0),(10.8,4.3,5.02),(11.0,4.32,4.98),(11.2,4.25,5.05),(11.4,4.3,4.95),(11.6,4.15,4.85),(11.8,4.1,4.78),(12.0,4.0,4.65),(12.2,3.75,4.25),(12.4,4.05,4.65),(12.6,4.1,4.7),(12.8,4.0,4.55),(13.0,4.15,4.7),(13.2,4.05,4.6),(13.4,4.1,4.65),(13.6,4.0,4.55),(13.8,4.08,4.62),(14.0,4.02,4.55),(14.2,4.1,4.65),(14.4,4.02,4.55),(14.6,4.05,4.6),(14.8,3.98,4.45),(15.0,4.0,4.45),(15.2,3.92,4.35),(15.4,3.95,4.4),(15.6,3.88,4.32),(15.8,3.92,4.38),(16.0,3.82,4.25),(16.2,3.9,4.35),(16.4,3.8,4.22),(16.6,3.85,4.3),(16.8,3.75,4.18),(17.0,3.8,4.25),(17.2,3.72,4.15),(17.4,3.78,4.22),(17.6,3.74,4.18),(17.8,3.8,4.25),(18.0,3.72,4.2),(18.2,3.78,4.24),(18.4,3.68,4.12),(18.6,3.75,4.2),(18.8,3.62,4.08),(19.0,3.7,4.15),(19.2,3.62,4.08),(19.4,3.72,4.18),(19.6,3.58,4.05),(19.8,3.72,4.25)]

# ---------------- panel j : PQR lite-1 ----------------
J_LINE = [(0,1.75),(0.1,1.62),(0.2,1.7),(0.3,1.6),(0.4,1.65),(0.5,1.58),(0.6,1.66),(0.7,1.6),(0.8,1.68),(0.9,1.62),(1.0,1.7),(1.1,1.6),(1.2,1.66),(1.3,1.58),(1.4,1.63),(1.5,1.55),(1.6,1.6),(1.7,1.52),(1.8,1.58),(1.9,1.5),(2.0,1.57),(2.1,1.52),(2.2,1.6),(2.3,1.5),(2.4,1.55),(2.5,1.48),(2.6,1.56),(2.7,1.5),(2.8,1.6),(2.9,1.52),(3.0,1.55),(3.1,1.42),(3.2,1.56),(3.3,1.52),(3.4,1.58),(3.5,1.7),(3.55,2.1),(3.6,2.6),(3.65,3.05),(3.7,2.7),(3.75,3.2),(3.8,2.8),(3.85,2.2),(3.9,1.9),(3.95,2.7),(4.0,3.1),(4.05,2.85),(4.1,3.3),(4.15,2.7),(4.2,3.05),(4.3,2.6),(4.4,2.85),(4.5,2.4),(4.6,2.65),(4.7,2.3),(4.8,2.55),(4.9,2.2),(5.0,2.35),(5.1,2.15),(5.2,2.5),(5.3,2.65),(5.4,2.3),(5.5,2.1),(5.6,1.9),(5.7,2.05),(5.8,1.95),(5.9,2.1),(6.0,2.3),(6.1,2.55),(6.2,2.75),(6.3,2.6),(6.4,2.7),(6.5,2.45),(6.6,2.3),(6.7,2.0),(6.8,1.85),(6.9,1.75),(7.0,1.8),(7.1,1.65),(7.2,1.72),(7.3,1.62),(7.4,1.68),(7.5,1.58),(7.6,1.65),(7.7,1.6),(7.8,1.72),(7.9,1.65),(8.0,1.75),(8.1,1.62),(8.2,1.68),(8.3,1.58),(8.4,1.65),(8.5,1.57),(8.6,1.63),(8.7,1.6),(8.8,1.66),(8.9,1.58),(9.0,1.64),(9.1,1.6),(9.2,1.68),(9.3,1.6),(9.4,1.62),(9.5,1.55),(9.6,1.6),(9.7,1.52),(9.8,1.5),(9.9,1.42),(10.0,1.48)]
J_BAND = [(0,1.62,1.85),(0.3,1.5,1.72),(0.6,1.55,1.78),(0.9,1.52,1.75),(1.2,1.55,1.8),(1.5,1.45,1.68),(1.8,1.45,1.7),(2.1,1.42,1.65),(2.4,1.42,1.68),(2.7,1.4,1.65),(3.0,1.42,1.68),(3.1,1.3,1.55),(3.3,1.4,1.65),(3.5,1.55,1.85),(3.6,2.2,3.0),(3.7,2.4,3.6),(3.8,2.3,3.5),(3.9,1.7,2.6),(4.0,2.6,4.3),(4.1,2.8,3.8),(4.2,2.6,3.6),(4.3,2.2,3.15),(4.4,2.4,3.35),(4.5,2.0,2.9),(4.6,2.25,3.1),(4.7,1.95,2.75),(4.8,2.15,3.05),(4.9,1.85,2.6),(5.0,2.0,2.75),(5.1,1.85,2.55),(5.2,2.1,3.0),(5.3,2.25,3.1),(5.4,1.95,2.7),(5.5,1.75,2.5),(5.6,1.6,2.25),(5.7,1.75,2.4),(5.8,1.65,2.3),(5.9,1.8,2.5),(6.0,1.95,2.75),(6.1,2.15,3.0),(6.2,2.3,3.45),(6.3,2.2,3.1),(6.4,2.25,3.2),(6.5,2.05,2.9),(6.6,1.95,2.7),(6.7,1.75,2.3),(6.8,1.65,2.05),(6.9,1.6,1.92),(7.2,1.58,1.85),(7.5,1.45,1.72),(7.8,1.58,1.85),(8.1,1.5,1.78),(8.4,1.48,1.75),(8.7,1.5,1.76),(9.0,1.5,1.78),(9.3,1.48,1.76),(9.6,1.42,1.7),(9.9,1.3,1.55),(10.0,1.35,1.6)]

# ---------------- text ----------------
FR = "Fluorescence ratio (YFP/CFP)"
O2 = "O\u2082"

CW = {" ": 278, "(": 333, ")": 333, "-": 333, ".": 278, "/": 278, ";": 278, "=": 584, "%": 889, "*": 389}
for _c in "0123456789":
    CW[_c] = 556
CW.update(dict(a=556, b=556, c=500, d=556, e=556, f=278, g=556, h=556, i=222, j=222, k=500, l=222, m=833,
               n=556, o=556, p=556, q=556, r=333, s=500, t=278, u=556, v=500, w=722, x=500, y=500, z=500))
CW.update(dict(A=667, B=667, C=722, D=722, E=667, F=611, G=778, H=722, I=278, J=500, K=667, L=556, M=833,
               N=722, O=778, P=667, Q=778, R=722, S=667, T=611, U=722, V=667, W=944, X=667, Y=667, Z=611))


def tw(s, size):
    return sum(CW.get(ch, 556) for ch in s) * size / 1000.0


def band_from(line, sem):
    return [(t, v - sem, v + sem) for t, v in line]


def br_ceg(top, lb, rb):
    return [(23.4, top, 25.07, top), (23.4, top, 23.4, lb), (23.12, lb, 23.68, lb),
            (25.07, top, 25.07, rb), (24.78, rb, 25.36, rb)]


PANELS = [
    dict(letter="a", lpos=(-61, 0), title=None, tdy=0, left=True, w=299, h=158,
         xdom=[0, 28], xticks=list(range(0, 29, 2)), xtitle="Time (min)",
         ydom=[0, 250], yticks=[0, 50, 100, 150, 200, 250], yfmt="d", ytitle="Speed (\u00b5m s\u207b\u00b9)",
         shades=[(0, 2), (4, 24)],
         bands=[(band_from(A_SPEED, A_SEM), "#9a9a9a", 1.0)],
         lines=[(A_SPEED, BLUE_A, 1.3)],
         o2=[(1.2, 237, "21"), (2.95, 237, "7%"), (14.3, 237, "21% " + O2), (26.0, 237, "7% " + O2)], o2size=12.5,
         legend=[(16.3, 17.4, 22, BLUE_A, 17.7, [("npr-1(ad609)", True)])], lfs=11.5,
         bracket=None, star=None),
    dict(letter="b", lpos=(-68, 2), title="URX", tdy=-4, left=False, w=218, h=160,
         xdom=[0, 420], xticks=list(range(0, 421, 60)), xtitle="Time (s)",
         ydom=[2, 3.6], yticks=[2, 2.4, 2.8, 3.2, 3.6], yfmt="~g", ytitle=FR,
         shades=[(0, 120), (240, 360)],
         bands=[(B_K_BAND, GREYBAND, 1.0), (B_B_BAND, BLUE_B_BAND, 0.85), (B_G_BAND, GREEN_B_BAND, 0.85)],
         lines=[(B_B, BLUE_B, 1.5), (B_G, GREEN_B, 1.5), (B_K, BLACK, 1.7)],
         o2=[(65, 3.48, "21% " + O2), (185, 3.48, "7% " + O2), (306, 3.48, "21% " + O2), (393, 3.48, "7% " + O2)], o2size=12,
         legend=[(5, 25, 3.335, BLACK, 31, [("npr-1(ad609) (n=21)", True)]),
                 (5, 25, 3.21, BLUE_B, 31, [("npr-1 itr-1RNAi", True), ("(knockdown", False)]),
                 (None, None, 3.11, None, 31, [("in URX AQR PQR)", False), ("(n=19)", True)]),
                 (5, 25, 3.005, GREEN_B, 31, [("itr-1(sa73); npr-1 (n=20)", True)])], lfs=9,
         bracket=None, star=None),
    dict(letter="c", lpos=(-61, -9), title="URX", tdy=-6, left=True, w=279, h=159,
         xdom=[0, 26], xticks=list(range(0, 27, 2)), xtitle="Time (min)",
         ydom=[1.5, 4], yticks=[1.5, 2, 2.5, 3, 3.5, 4], yfmt="~g", ytitle=FR,
         shades=[(0, 2), (4, 24)],
         bands=[(C_BAND, GREYBAND, 1.0)],
         lines=[(C_LINE, BLACK, 1.8)],
         o2=[(1.0, 1.6, "21%"), (3.05, 1.6, "7%"), (13.75, 1.6, "21% " + O2), (24.95, 1.6, "7%")], o2size=12.5,
         legend=[(16.7, 17.7, 3.46, BLACK, 17.95, [("npr-1", True), ("(n=16)", False)])], lfs=11.2,
         bracket=br_ceg(2.78, 2.62, 2.50), star=(24.2, 2.82, "***")),
    dict(letter="d", lpos=(-68, 7), title="PQR", tdy=-3, left=False, w=257, h=159,
         xdom=[0, 960], xticks=list(range(0, 961, 120)), xtitle="Time (s)",
         ydom=[1.5, 6], yticks=[2, 3, 4, 5, 6], yfmt="~g", ytitle=FR,
         shades=[(0, 240), (480, 720)],
         bands=[(N2_BAND, GREYBAND, 1.0), (D_G_BAND, GREEN_D_BAND, 0.85)],
         lines=[(D_G, GREEN_D, 1.6), (N2_LINE, BLACK, 1.7)],
         o2=[(140, 1.7, "21% " + O2), (355, 1.7, "7% " + O2), (604, 1.7, "21% " + O2), (847, 1.7, "7% " + O2)], o2size=12.5,
         legend=[(37, 75, 5.71, BLACK, 86, [("N2 (n=18)", False)]),
                 (37, 75, 5.25, GREEN_D, 86, [("itr-1(sa73)", True), ("(n=14)", False)])], lfs=11.5,
         bracket=None, star=None),
    dict(letter="e", lpos=(-61, -5), title="AQR", tdy=-5, left=True, w=279, h=160,
         xdom=[0, 26], xticks=list(range(0, 27, 2)), xtitle="Time (min)",
         ydom=[1, 7], yticks=[1, 2, 3, 4, 5, 6, 7], yfmt="~g", ytitle=FR,
         shades=[(0, 2), (4, 24)],
         bands=[(E_BAND, GREYBAND, 1.0)],
         lines=[(E_LINE, BLACK, 1.8)],
         o2=[(1.0, 1.37, "21%"), (3.05, 1.37, "7%"), (13.75, 1.37, "21% " + O2), (24.95, 1.37, "7%")], o2size=12.5,
         legend=[(16.7, 17.7, 5.73, BLACK, 17.95, [("npr-1", True), ("(n=14)", False)])], lfs=11.2,
         bracket=br_ceg(5.6, 5.23, 4.28), star=(24.2, 5.72, "***")),
    dict(letter="f", lpos=(-68, 5), title="URX", tdy=-6, left=False, w=214, h=161,
         xdom=[0, 420], xticks=list(range(0, 421, 60)), xtitle="Time (s)",
         ydom=[1.7, 3.1], yticks=[1.7, 1.9, 2.1, 2.3, 2.5, 2.7, 2.9, 3.1], yfmt="~g", ytitle=FR,
         shades=[(0, 120), (240, 360)],
         bands=[(F_K_BAND, GREYBAND, 1.0), (F_R_BAND, RED_BAND, 0.85), (F_O_BAND, ORANGE_BAND, 0.85)],
         lines=[(F_O, ORANGE, 1.5), (F_R, RED, 1.5), (F_K, BLACK, 1.7)],
         o2=[(62, 3.03, "21% " + O2), (183, 3.03, "7% " + O2), (307, 3.03, "21% " + O2), (398, 3.03, "7% " + O2)], o2size=12,
         legend=[(8, 28, 2.87, BLACK, 33, [("npr-1(ad609) (n=22)", True)]),
                 (8, 28, 2.77, RED, 33, [("unc-68(e540); npr-1 (n=20)", True)]),
                 (8, 28, 2.66, ORANGE, 33, [("unc-68(e730); npr-1 (n=24)", True)])], lfs=9,
         bracket=None, star=None),
    dict(letter="g", lpos=(-61, 10), title="PQR", tdy=-7, left=True, w=279, h=163,
         xdom=[0, 26], xticks=list(range(0, 27, 2)), xtitle="Time (min)",
         ydom=[1, 7], yticks=[1, 2, 3, 4, 5, 6, 7], yfmt="~g", ytitle=FR,
         shades=[(0, 2), (4, 24)],
         bands=[(G_BAND, GREYBAND, 1.0)],
         lines=[(G_LINE, BLACK, 1.8)],
         o2=[(1.0, 1.35, "21%"), (3.05, 1.35, "7%"), (13.75, 1.35, "21% " + O2), (24.95, 1.35, "7%")], o2size=12.5,
         legend=[(16.7, 17.7, 6.13, BLACK, 17.95, [("npr-1", True), ("(n=11)", False)])], lfs=11.2,
         bracket=br_ceg(5.48, 5.1, 4.18), star=(24.2, 5.62, "***")),
    dict(letter="h", lpos=(-68, 0), title="PQR", tdy=-7, left=False, w=257, h=161,
         xdom=[0, 960], xticks=list(range(0, 961, 120)), xtitle="Time (s)",
         ydom=[1.5, 6], yticks=[2, 3, 4, 5, 6], yfmt="~g", ytitle=FR,
         shades=[(0, 240), (480, 720)],
         bands=[(N2_BAND, GREYBAND, 1.0), (H_O_BAND, ORANGE_BAND, 0.85), (H_R_BAND, RED_BAND, 0.85)],
         lines=[(H_O, ORANGE, 1.6), (H_R, RED, 1.6), (N2_LINE, BLACK, 1.7)],
         o2=[(140, 1.75, "21% " + O2), (361, 1.75, "7% " + O2), (604, 1.75, "21% " + O2), (847, 1.75, "7% " + O2)], o2size=12.5,
         legend=[(37, 75, 5.76, BLACK, 86, [("N2 (n=18)", False)]),
                 (37, 75, 5.37, RED, 86, [("unc-68(e540)", True), ("(n=14)", False)]),
                 (37, 75, 4.98, ORANGE, 86, [("unc-68(e730)", True), ("(n=31)", False)])], lfs=11.5,
         bracket=None, star=None),
    dict(letter="i", lpos=(-61, -7), title="URX", tdy=-4, left=True, w=221, h=157,
         xdom=[0, 20], xticks=list(range(0, 21, 2)), xtitle="Time (min)",
         ydom=[3.5, 5.5], yticks=[3.5, 4, 4.5, 5, 5.5], yfmt="~g", ytitle=FR,
         shades=[(4.9, 14.66)],
         bands=[(I_BAND, ORANGE_I, 1.0)],
         lines=[(I_LINE, RED_I, 1.4)],
         o2=[(2.65, 3.59, "7% " + O2), (9.75, 3.59, "21% " + O2), (17.1, 3.59, "7% " + O2)], o2size=12.5,
         legend=[(10.7, 11.8, 5.37, RED_I, 12.0, [("npr-1 lite-1", True), ("(n=12)", False)])], lfs=11.3,
         bracket=[(11.7, 5.03, 14.57, 5.03), (13.1, 5.03, 13.1, 5.16), (13.1, 5.16, 16.2, 5.16),
                  (16.2, 5.16, 16.2, 4.79), (14.8, 4.79, 17.7, 4.79)],
         star=(14.6, 5.2, "*")),
    dict(letter="j", lpos=(-68, 0), title="PQR", tdy=-4, left=False, w=218, h=159,
         xdom=[0, 10], xticks=list(range(0, 11)), xtitle="Time (min)",
         ydom=[1, 4.5], yticks=[1, 1.5, 2, 2.5, 3, 3.5, 4, 4.5], yfmt="~g", ytitle=FR,
         shades=[(3.5, 6.7)],
         bands=[(J_BAND, ORANGE_I, 1.0)],
         lines=[(J_LINE, RED_I, 1.4)],
         o2=[(1.76, 1.14, "7% " + O2), (5.12, 1.14, "21% " + O2), (8.5, 1.14, "7% " + O2)], o2size=12.5,
         legend=[(5.23, 5.77, 4.27, RED_I, 5.89, [("npr-1 lite-1", True), ("(n=13)", False)])], lfs=11.3,
         bracket=[(3.8, 3.7, 6.7, 3.7), (5.28, 3.7, 5.28, 3.9), (5.28, 3.9, 8.2, 3.9),
                  (8.2, 3.9, 8.2, 3.15), (6.75, 3.15, 9.7, 3.15)],
         star=(6.72, 3.98, "*")),
]


def build(p):
    xs = alt.Scale(domain=p["xdom"], nice=False, zero=False)
    ys = alt.Scale(domain=p["ydom"], nice=False, zero=False)
    ext = 22 if p["left"] else 27
    tpad = 3 if p["left"] else 6
    common = dict(grid=False, labelFlush=False, labelOverlap=False, tickSize=4, labelPadding=2,
                  domainColor=AX, tickColor=AX, labelColor="#222222", titleColor="#111111",
                  labelFontSize=10.5, titleFontWeight="normal", labelFont=FONT, titleFont=FONT)
    xa = alt.Axis(values=p["xticks"], title=p["xtitle"], format="d", titlePadding=0, titleFontSize=13.5, **common)
    ya = alt.Axis(values=p["yticks"], title=p["ytitle"], format=p["yfmt"], titlePadding=tpad,
                  minExtent=ext, maxExtent=ext, titleFontSize=12.5, **common)

    def X(f):
        return alt.X(f, type="quantitative", scale=xs, axis=xa)

    def Y(f):
        return alt.Y(f, type="quantitative", scale=ys, axis=ya)

    y0, y1 = p["ydom"]
    layers = []
    sh = pd.DataFrame([{"a": a, "b": b, "lo": y0, "hi": y1} for a, b in p["shades"]])
    layers.append(alt.Chart(sh).mark_rect(color=SHADE).encode(x=X("a"), x2="b", y=Y("lo"), y2="hi"))
    for band, col, op in p["bands"]:
        df = pd.DataFrame(band, columns=["t", "lo", "hi"])
        layers.append(alt.Chart(df).mark_area(color=col, opacity=op).encode(x=X("t"), y=Y("lo"), y2="hi"))
    for line, col, sw in p["lines"]:
        df = pd.DataFrame(line, columns=["t", "v"])
        layers.append(alt.Chart(df).mark_line(color=col, strokeWidth=sw).encode(x=X("t"), y=Y("v")))
    o2 = pd.DataFrame(p["o2"], columns=["x", "y", "s"])
    layers.append(alt.Chart(o2).mark_text(font=FONT, fontSize=p["o2size"], color="#222222", baseline="middle")
                  .encode(x=X("x"), y=Y("y"), text="s"))
    fs = p["lfs"]
    rules = [dict(x=e[0], x2=e[1], y=e[2], c=e[3]) for e in p["legend"] if e[3]]
    layers.append(alt.Chart(pd.DataFrame(rules)).mark_rule(strokeWidth=2)
                  .encode(x=X("x"), x2="x2", y=Y("y"), color=alt.Color("c:N", scale=None)))
    for e in p["legend"]:
        off = 0.0
        for txt, it in e[5]:
            df = pd.DataFrame([{"x": e[4], "y": e[2], "s": txt}])
            layers.append(alt.Chart(df).mark_text(align="left", baseline="middle", dx=off, font=FONT, fontSize=fs,
                                                  fontStyle="italic" if it else "normal", color="#111111")
                          .encode(x=X("x"), y=Y("y"), text="s"))
            off += tw(txt + " ", fs)
    if p["bracket"]:
        df = pd.DataFrame(p["bracket"], columns=["x", "y", "x2", "y2"])
        layers.append(alt.Chart(df).mark_rule(color="#111111", strokeWidth=1.2)
                      .encode(x=X("x"), y=Y("y"), x2="x2", y2="y2"))
        st = pd.DataFrame([p["star"]], columns=["x", "y", "s"])
        layers.append(alt.Chart(st).mark_text(font=FONT, fontSize=11, baseline="middle", color="#111111")
                      .encode(x=X("x"), y=Y("y"), text="s"))
    if p["title"]:
        layers.append(alt.Chart(pd.DataFrame([{"s": p["title"]}]))
                      .mark_text(align="center", baseline="alphabetic", font=FONT, fontSize=17.5, color="#111111")
                      .encode(x=alt.value(p["w"] / 2), y=alt.value(p["tdy"]), text="s"))
    lx, ly = p["lpos"]
    layers.append(alt.Chart(pd.DataFrame([{"s": p["letter"]}]))
                  .mark_text(align="left", baseline="alphabetic", font=FONT, fontSize=21, fontWeight="bold", color="#000000")
                  .encode(x=alt.value(lx), y=alt.value(ly), text="s"))
    return alt.layer(*layers).properties(width=p["w"], height=p["h"])


chart = alt.concat(*[build(p) for p in PANELS], columns=2,
                   spacing={"row": 64, "column": 102}, bounds="flush", padding=0)
chart = chart.configure_view(stroke=None).configure(font=FONT)
chart.save("out.html", embed_options={"renderer": "svg", "actions": False})
